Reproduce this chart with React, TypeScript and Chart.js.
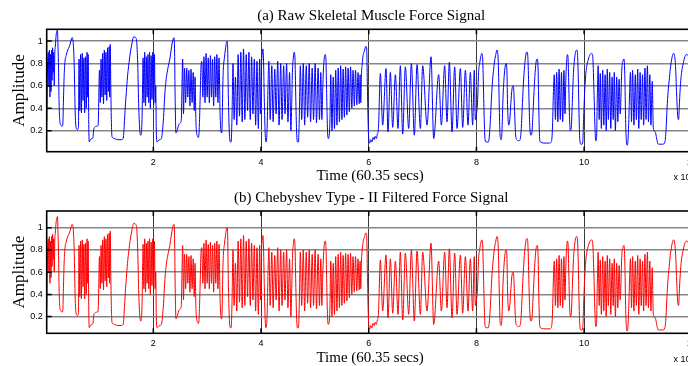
import React, { useEffect, useRef } from "react";
import { Chart, registerables } from "chart.js";

Chart.register(...registerables);

// ---- tick values (time axis in units of 10^4 samples) ----
const xTicks = [2, 4, 6, 8, 10, 12];
const yTicks = [0.2, 0.4, 0.6, 0.8, 1];

// ---- force signal: [time (x10^4), amplitude] ----
const seg0to2 = [
  [0.02,0.28],[0.035,0.75],[0.05,0.9],[0.06,0.6],[0.07,0.92],[0.08,0.5],[0.09,0.88],[0.1,0.55],[0.11,0.92],[0.12,0.65],[0.13,0.94],[0.14,0.72],[0.15,0.9],[0.16,0.6],[0.17,0.88],[0.18,0.95],[0.195,1.05],[0.21,1.09],[0.22,1.1],[0.23,0.95],[0.24,0.75],[0.25,0.45],[0.265,0.28],[0.285,0.25],[0.305,0.24],[0.32,0.26],[0.33,0.45],[0.345,0.7],[0.36,0.82],[0.38,0.87],[0.41,0.92],[0.44,0.95],[0.47,1.0],[0.49,1.03],[0.51,1.0],[0.53,0.8],[0.55,0.35],[0.57,0.22],[0.59,0.21],[0.61,0.23],
  [0.62,0.84],[0.635,0.38],[0.65,0.88],[0.665,0.36],[0.68,0.89],[0.695,0.47],[0.71,0.85],[0.725,0.36],[0.74,0.86],[0.755,0.4],[0.77,0.9],[0.78,0.5],[0.79,0.88],[0.8,0.3],[0.81,0.1],[0.83,0.12],[0.86,0.13],[0.88,0.14],[0.89,0.2],[0.91,0.23],[0.95,0.24],[0.975,0.25],
  [1.0,0.74],[1.015,0.45],[1.03,0.84],[1.045,0.5],[1.06,0.89],[1.075,0.44],[1.09,0.92],[1.105,0.52],[1.12,0.9],[1.135,0.47],[1.15,0.94],[1.165,0.55],[1.18,0.95],[1.19,0.5],[1.2,0.97],[1.21,0.6],[1.22,0.3],[1.23,0.16],
  [1.24,0.14],[1.28,0.13],[1.34,0.12],[1.4,0.12],[1.44,0.13],[1.46,0.25],[1.48,0.42],[1.5,0.55],[1.52,0.68],[1.54,0.77],[1.56,0.85],[1.58,0.92],[1.6,0.97],[1.62,1.02],[1.64,1.04],[1.67,1.03],[1.69,1.0],[1.71,0.8],[1.73,0.4],[1.75,0.2],[1.77,0.16],[1.79,0.3],[1.8,0.6],
  [1.81,0.85],[1.825,0.45],[1.84,0.9],[1.855,0.42],[1.87,0.86],[1.885,0.5],[1.9,0.88],[1.915,0.45],[1.93,0.9],[1.945,0.4],[1.96,0.87],[1.975,0.48],[1.99,0.9],[2.005,0.43],[2.02,0.88],[2.035,0.45],[2.045,0.6],[2.055,0.2],[2.07,0.1],
];

const seg2to4 = [
  [2.09,0.11],[2.12,0.12],[2.15,0.13],[2.17,0.2],[2.19,0.32],[2.21,0.5],[2.23,0.62],[2.25,0.7],[2.28,0.78],[2.31,0.85],[2.33,0.92],[2.35,0.98],[2.37,1.02],[2.385,1.03],[2.395,0.9],[2.405,0.5],[2.42,0.18],[2.44,0.2],[2.47,0.25],[2.5,0.27],[2.52,0.3],
  [2.53,0.55],[2.545,0.84],[2.56,0.35],[2.58,0.76],[2.6,0.45],[2.62,0.76],[2.64,0.5],[2.66,0.74],[2.68,0.42],[2.7,0.75],[2.72,0.45],[2.74,0.72],[2.76,0.38],[2.775,0.68],[2.79,0.3],[2.8,0.2],[2.82,0.15],[2.84,0.14],[2.855,0.25],
  [2.87,0.5],[2.885,0.77],[2.9,0.82],[2.92,0.5],[2.94,0.86],[2.96,0.45],[2.98,0.89],[3.0,0.5],[3.02,0.85],[3.04,0.45],[3.06,0.87],[3.08,0.5],[3.1,0.84],[3.12,0.42],[3.14,0.86],[3.16,0.5],[3.18,0.88],[3.2,0.45],[3.22,0.85],[3.24,0.35],[3.255,0.2],[3.27,0.18],[3.28,0.3],
  [3.29,0.6],[3.3,0.75],[3.32,0.85],[3.34,0.93],[3.355,0.98],[3.37,1.0],[3.38,0.95],[3.39,0.6],[3.41,0.2],[3.43,0.1],[3.445,0.1],[3.46,0.3],
  [3.48,0.8],[3.5,0.3],[3.525,0.68],[3.55,0.25],[3.575,0.88],[3.6,0.33],[3.625,0.9],[3.65,0.28],[3.675,0.93],[3.7,0.3],[3.725,0.88],[3.75,0.38],[3.775,0.9],[3.8,0.3],[3.825,0.86],[3.85,0.35],[3.875,0.84],[3.9,0.25],[3.925,0.82],[3.95,0.22],[3.975,0.84],[3.99,0.35],
];

const seg4to6 = [
  [4.01,0.8],[4.025,0.9],[4.035,0.93],[4.045,0.85],[4.06,0.5],[4.075,0.2],[4.09,0.1],[4.1,0.11],[4.115,0.25],
  [4.13,0.6],[4.145,0.82],[4.17,0.3],[4.2,0.78],[4.225,0.28],[4.255,0.75],[4.28,0.35],[4.31,0.82],[4.335,0.25],[4.365,0.8],[4.39,0.3],[4.42,0.78],[4.445,0.35],[4.475,0.8],[4.5,0.28],[4.53,0.72],[4.555,0.2],[4.57,0.45],
  [4.585,0.75],[4.6,0.85],[4.615,0.9],[4.63,0.85],[4.645,0.5],[4.66,0.2],[4.675,0.1],[4.695,0.1],[4.71,0.3],
  [4.73,0.78],[4.755,0.3],[4.785,0.8],[4.81,0.25],[4.84,0.78],[4.865,0.32],[4.895,0.8],[4.92,0.28],[4.95,0.76],[4.975,0.3],[5.005,0.8],[5.03,0.27],[5.06,0.76],[5.085,0.3],[5.11,0.72],[5.13,0.3],
  [5.145,0.55],[5.16,0.75],[5.175,0.85],[5.19,0.88],[5.205,0.84],[5.22,0.5],[5.235,0.2],[5.25,0.13],[5.265,0.15],[5.28,0.3],
  [5.295,0.7],[5.318,0.2],[5.341,0.68],[5.364,0.22],[5.387,0.74],[5.41,0.25],[5.433,0.76],[5.456,0.28],[5.479,0.78],[5.502,0.3],[5.525,0.75],[5.548,0.32],[5.571,0.77],[5.594,0.34],[5.617,0.76],[5.64,0.37],[5.663,0.77],[5.686,0.4],[5.709,0.74],[5.732,0.42],[5.755,0.74],[5.778,0.43],[5.801,0.72],[5.824,0.44],[5.84,0.7],[5.852,0.45],
  [5.865,0.7],[5.88,0.8],[5.895,0.87],[5.91,0.9],[5.925,0.92],[5.94,0.95],[5.955,0.95],[5.965,0.9],[5.975,0.6],[5.99,0.25],
];

const seg6to8 = [
  [6.0,0.13],[6.02,0.09],[6.04,0.12],[6.06,0.1],[6.08,0.14],[6.1,0.12],[6.12,0.15],[6.14,0.13],[6.16,0.17],[6.18,0.22],
  [6.216,0.71],[6.259,0.25],[6.321,0.755],[6.358,0.19],[6.402,0.72],[6.445,0.23],[6.495,0.7],[6.544,0.22],[6.587,0.78],[6.631,0.17],[6.68,0.77],[6.742,0.22],[6.792,0.8],[6.847,0.16],[6.897,0.79],[6.959,0.22],[7.002,0.78],[7.083,0.25],[7.157,0.86],[7.206,0.13],[7.299,0.7],[7.349,0.25],[7.41,0.78],[7.454,0.28],[7.497,0.81],[7.547,0.19],[7.596,0.77],[7.64,0.22],[7.702,0.755],[7.745,0.23],[7.795,0.74],[7.844,0.25],[7.887,0.72],[7.93,0.25],[7.96,0.74],[7.98,0.3],
];

const seg8to10 = [
  [8.0,0.35],[8.02,0.45],[8.04,0.72],[8.06,0.8],[8.08,0.86],[8.1,0.89],[8.115,0.85],[8.13,0.6],[8.145,0.3],[8.16,0.12],[8.18,0.1],[8.2,0.1],[8.22,0.1],[8.235,0.13],
  [8.26,0.3],[8.28,0.5],[8.3,0.65],[8.32,0.75],[8.34,0.83],[8.36,0.88],[8.38,0.92],[8.395,0.9],[8.41,0.75],[8.425,0.4],[8.44,0.15],[8.46,0.12],[8.475,0.2],[8.49,0.45],[8.51,0.65],[8.53,0.76],[8.55,0.8],[8.565,0.75],[8.58,0.4],[8.6,0.25],[8.62,0.3],[8.64,0.45],[8.66,0.57],[8.68,0.6],[8.695,0.55],[8.71,0.35],[8.73,0.15],[8.75,0.12],[8.78,0.11],[8.81,0.12],[8.83,0.2],[8.85,0.4],[8.87,0.6],[8.89,0.75],[8.91,0.85],[8.93,0.9],[8.945,0.9],[8.96,0.8],[8.975,0.5],[8.99,0.25],[9.01,0.16],[9.03,0.18],[9.05,0.35],[9.07,0.55],[9.09,0.72],[9.11,0.82],[9.13,0.84],[9.145,0.75],[9.16,0.35],[9.175,0.12],[9.19,0.1],[9.25,0.09],[9.3,0.09],[9.35,0.09],[9.39,0.1],[9.41,0.2],
  [9.43,0.55],[9.445,0.7],[9.467,0.3],[9.49,0.72],[9.512,0.28],[9.535,0.75],[9.557,0.3],[9.58,0.72],[9.602,0.28],[9.625,0.74],[9.645,0.35],[9.66,0.65],
  [9.675,0.82],[9.69,0.88],[9.7,0.86],[9.715,0.6],[9.73,0.3],[9.745,0.2],[9.76,0.22],[9.78,0.45],[9.8,0.7],[9.82,0.83],[9.84,0.9],[9.86,0.92],[9.875,0.9],[9.89,0.7],[9.905,0.35],[9.92,0.12],[9.94,0.08],[9.96,0.08],[9.975,0.1],[9.99,0.3],
];

const seg10to12 = [
  [10.01,0.55],[10.03,0.7],[10.05,0.78],[10.08,0.84],[10.11,0.88],[10.14,0.89],[10.16,0.86],[10.18,0.6],[10.2,0.25],[10.215,0.11],[10.23,0.13],
  [10.245,0.5],[10.26,0.78],[10.28,0.3],[10.3,0.71],[10.32,0.22],[10.345,0.74],[10.365,0.25],[10.39,0.7],[10.41,0.2],[10.43,0.75],[10.45,0.3],[10.475,0.72],[10.495,0.22],[10.52,0.68],[10.54,0.3],[10.56,0.72],[10.58,0.2],[10.605,0.68],[10.625,0.28],[10.65,0.66],[10.67,0.35],
  [10.7,0.75],[10.72,0.82],[10.74,0.84],[10.755,0.7],[10.77,0.3],[10.785,0.1],[10.8,0.07],[10.815,0.12],[10.83,0.3],
  [10.845,0.55],[10.86,0.72],[10.88,0.28],[10.9,0.74],[10.925,0.25],[10.95,0.7],[10.97,0.3],[10.995,0.75],[11.015,0.22],[11.04,0.72],[11.06,0.3],[11.085,0.7],[11.105,0.25],[11.13,0.76],[11.15,0.3],[11.175,0.78],[11.195,0.28],[11.22,0.7],[11.24,0.25],[11.265,0.64],[11.285,0.22],[11.32,0.19],[11.34,0.15],
  [11.36,0.1],[11.38,0.08],[11.42,0.08],[11.46,0.08],[11.5,0.1],[11.52,0.2],[11.54,0.4],[11.56,0.55],[11.58,0.65],[11.6,0.75],[11.62,0.82],[11.64,0.87],[11.66,0.89],[11.68,0.87],[11.7,0.75],[11.72,0.5],[11.74,0.32],[11.755,0.3],[11.77,0.45],[11.79,0.62],[11.81,0.72],[11.84,0.8],[11.87,0.86],[11.9,0.88],[11.93,0.87],[11.96,0.8],[11.99,0.6],[12.02,0.35],[12.05,0.3],
];

const rawForce = [...seg0to2, ...seg2to4, ...seg4to6, ...seg6to8, ...seg8to10, ...seg10to12];
// the filtered trace is visually identical to the raw one in the picture
const filteredForce = rawForce;

const SERIF = '"Liberation Serif", "Times New Roman", serif';
const SANS = '"Liberation Sans", Arial, sans-serif';

const matlabAxes = {
  id: "matlabAxes",
  afterDraw(chart: any, _args: any, opts: any) {
    const { ctx, chartArea: a } = chart;
    const sx = chart.scales.x;
    const sy = chart.scales.y;
    ctx.save();
    ctx.strokeStyle = "#000";
    ctx.lineWidth = 1.5;
    ctx.beginPath();
    xTicks.forEach((v) => {
      const x = sx.getPixelForValue(v);
      ctx.moveTo(x, a.top);
      ctx.lineTo(x, a.top + 5);
      ctx.moveTo(x, a.bottom);
      ctx.lineTo(x, a.bottom - 5);
    });
    yTicks.forEach((v) => {
      const y = sy.getPixelForValue(v);
      ctx.moveTo(a.left, y);
      ctx.lineTo(a.left + 5, y);
      ctx.moveTo(a.right, y);
      ctx.lineTo(a.right - 5, y);
    });
    ctx.stroke();
    ctx.lineWidth = 1.6;
    ctx.strokeRect(a.left, a.top, a.right - a.left, a.bottom - a.top);

    ctx.fillStyle = "#000";
    const cx = (a.left + a.right) / 2;
    ctx.textAlign = "center";
    ctx.textBaseline = "alphabetic";
    ctx.font = `15px ${SERIF}`;
    ctx.fillText(opts.title, cx, a.top - 9.5);
    ctx.fillText(opts.xLabel, cx - 1, a.bottom + 28.5);

    ctx.save();
    ctx.translate(19.5, (a.top + a.bottom) / 2);
    ctx.rotate(-Math.PI / 2);
    ctx.textBaseline = "middle";
    ctx.font = `17px ${SERIF}`;
    ctx.fillText(opts.yLabel, 0, 0);
    ctx.restore();

    ctx.textAlign = "left";
    ctx.textBaseline = "middle";
    ctx.font = `9px ${SANS}`;
    ctx.fillText("x 10", a.right - 22, a.bottom + 26);
    ctx.font = `7px ${SANS}`;
    ctx.fillText("4", a.right - 3, a.bottom + 22);
    ctx.restore();
  },
};

function buildConfig(
  series: number[][],
  color: string,
  yMin: number,
  yMax: number,
  padTop: number,
  padBottom: number,
  title: string
) {
  return {
    type: "line" as const,
    data: {
      datasets: [
        {
          data: series.map(([x, y]) => ({ x, y })),
          borderColor: color,
          borderWidth: 1,
          pointRadius: 0,
          fill: false,
          cubicInterpolationMode: "monotone" as const,
        },
      ],
    },
    options: {
      animation: false as const,
      responsive: false,
      maintainAspectRatio: false,
      events: [],
      layout: { padding: { top: padTop, bottom: padBottom, left: 0, right: 44.4 } },
      plugins: {
        legend: { display: false },
        tooltip: { enabled: false },
        title: { display: false },
        matlabAxes: { title, xLabel: "Time (60.35 secs)", yLabel: "Amplitude" },
      },
      scales: {
        x: {
          type: "linear" as const,
          min: 0.02,
          max: 12.07,
          afterBuildTicks: (s: any) => {
            s.ticks = xTicks.map((value) => ({ value }));
          },
          afterFit: (s: any) => {
            s.height = 20;
          },
          border: { display: false },
          grid: { color: "#3a3a3a", lineWidth: 1, drawTicks: false },
          ticks: {
            padding: 5,
            autoSkip: false,
            maxRotation: 0,
            color: "#000",
            font: { family: SANS, size: 9 },
            callback: (v: any) => String(v),
          },
        },
        y: {
          type: "linear" as const,
          min: yMin,
          max: yMax,
          afterBuildTicks: (s: any) => {
            s.ticks = yTicks.map((value) => ({ value }));
          },
          afterFit: (s: any) => {
            s.width = 46.7;
          },
          border: { display: false },
          grid: { color: "#858585", lineWidth: 1.5, drawTicks: false },
          ticks: {
            padding: 4,
            color: "#000",
            font: { family: SANS, size: 9 },
            callback: (v: any) => String(Math.round(v * 10) / 10),
          },
        },
      },
    },
    plugins: [matlabAxes],
  };
}

function Subplot(props: {
  series: number[][];
  color: string;
  yMin: number;
  yMax: number;
  padTop: number;
  padBottom: number;
  title: string;
  top: number;
}) {
  const ref = useRef<HTMLCanvasElement | null>(null);
  useEffect(() => {
    if (!ref.current) return;
    const chart = new Chart(
      ref.current,
      buildConfig(props.series, props.color, props.yMin, props.yMax, props.padTop, props.padBottom, props.title) as any
    );
    return () => chart.destroy();
  }, []);
  return (
    <canvas
      ref={ref}
      width={740}
      height={183}
      style={{ position: "absolute", left: 0, top: props.top, width: 740, height: 183 }}
    />
  );
}

export default function App() {
  return (
    <div
      style={{
        position: "fixed",
        left: 0,
        top: 0,
        width: 688,
        height: 366,
        overflow: "hidden",
        background: "#fff",
      }}
    >
      <Subplot
        series={rawForce}
        color="#0000ff"
        yMin={0.013}
        yMax={1.105}
        padTop={29.3}
        padBottom={11.3}
        title="(a) Raw Skeletal Muscle Force Signal"
        top={0}
      />
      <Subplot
        series={filteredForce}
        color="#ff0000"
        yMin={0.05}
        yMax={1.15}
        padTop={28}
        padBottom={12.7}
        title="(b) Chebyshev Type - II Filtered Force Signal"
        top={183}
      />
    </div>
  );
}
